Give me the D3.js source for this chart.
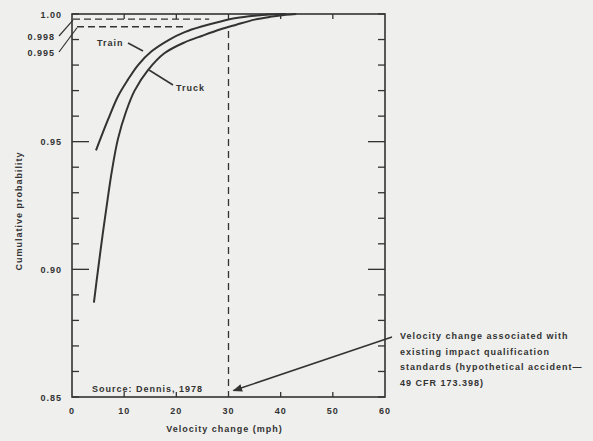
<!DOCTYPE html>
<html>
<head>
<meta charset="utf-8">
<script src="https://cdn.jsdelivr.net/npm/d3@7"></script>
<style>
  body { margin: 0; background: #efefed; }
  svg { display: block; }
  text { font-family: "Liberation Sans", Arial, sans-serif; font-weight: bold; font-size: 9px; fill: #333; letter-spacing: 1px; }
</style>
</head>
<body>
<svg id="chart" width="593" height="441"></svg>
<script>
// data
var trainV = [4.6, 6.9, 8.8, 10.7, 12.7, 15.2, 18.6, 21.6, 25, 28.5, 31.5, 35, 38, 41];
var trainP = [0.9466, 0.9586, 0.9677, 0.9742, 0.9801, 0.9853, 0.9899, 0.9929, 0.9952, 0.9971, 0.9984, 0.9993, 0.9998, 1.0];
var truckV = [4.2, 5.0, 5.9, 6.8, 7.6, 8.8, 10.4, 12.0, 14.6, 17.7, 21.6, 25, 28.5, 31.5, 35, 38, 41, 43];
var truckP = [0.887, 0.900, 0.914, 0.927, 0.938, 0.951, 0.9620, 0.9700, 0.9781, 0.9846, 0.9889, 0.9915, 0.9940, 0.9958, 0.9978, 0.9989, 0.9997, 1.0];

var xTicks = [0, 10, 20, 30, 40, 50, 60];
var yLabelTicks = [0.85, 0.90, 0.95, 1.00];
var yMinorTicks = d3.range(0.85, 1.0001, 0.01);
var refLevels = [0.998, 0.995];
var refLabels = ["0.998", "0.995"];
var refEnds = [26.3, 21.5];
var qualV = 30;
var noteLines = ["Velocity change associated with", "existing impact qualification", "standards (hypothetical accident\u2014", "49 CFR 173.398)"];

var x = d3.scaleLinear().domain([0, 60]).range([72, 385]);
var y = d3.scaleLinear().domain([0.85, 1.0]).range([397, 14]);

var svg = d3.select("#chart");
var ink = "#333";

// frame
svg.append("rect")
    .attr("x", x(0)).attr("y", y(1))
    .attr("width", x(60) - x(0)).attr("height", y(0.85) - y(1))
    .style("fill", "none").style("stroke", ink).style("stroke-width", 1.6);

// left / right ticks (inward)
yMinorTicks.forEach(function(t) {
    var major = Math.abs(t - 0.95) < 1e-6 || Math.abs(t - 0.90) < 1e-6;
    var len = major ? 17 : 7;
    svg.append("line").attr("x1", x(0)).attr("x2", x(0) + len)
        .attr("y1", y(t)).attr("y2", y(t)).style("stroke", ink).style("stroke-width", 1.3);
    svg.append("line").attr("x1", x(60)).attr("x2", x(60) - len)
        .attr("y1", y(t)).attr("y2", y(t)).style("stroke", ink).style("stroke-width", 1.3);
});

// top / bottom ticks
xTicks.slice(1, -1).forEach(function(t) {
    svg.append("line").attr("x1", x(t)).attr("x2", x(t))
        .attr("y1", y(0.85)).attr("y2", y(0.85) - 5).style("stroke", ink).style("stroke-width", 1.3);
    svg.append("line").attr("x1", x(t)).attr("x2", x(t))
        .attr("y1", y(1)).attr("y2", y(1) + 5).style("stroke", ink).style("stroke-width", 1.3);
});

// tick labels
svg.append("g").selectAll("text").data(xTicks).enter().append("text")
    .attr("x", d => x(d)).attr("y", 414)
    .attr("text-anchor", "middle")
    .text(d => d);

svg.append("g").selectAll("text").data(yLabelTicks).enter().append("text")
    .attr("x", 62).attr("y", d => y(d) + 3.5)
    .attr("text-anchor", "end")
    .text(d3.format(".2f"));

// reference levels with leaders
refLevels.forEach(function(lv, i) {
    var ly = i === 0 ? 37 : 53;
    svg.append("text").attr("x", 55).attr("y", ly + 3)
        .attr("text-anchor", "end").text(refLabels[i]);
    var sx = i === 0 ? x(0) + 1 : x(0) + 5;
    svg.append("path")
        .attr("d", "M" + 59 + "," + (ly - 1) + " L" + sx + "," + (y(lv) + 1))
        .style("fill", "none").style("stroke", ink).style("stroke-width", 1.2);
    svg.append("line")
        .attr("x1", sx).attr("x2", x(refEnds[i]))
        .attr("y1", y(lv)).attr("y2", y(lv))
        .style("stroke", ink).style("stroke-width", 1.3)
        .style("stroke-dasharray", "7,4");
});

// curves
var line = d3.line().x(d => x(d[0])).y(d => y(d[1])).curve(d3.curveCatmullRom.alpha(0.5));
var train = trainV.map((v, i) => [v, trainP[i]]);
var truck = truckV.map((v, i) => [v, truckP[i]]);

[train, truck].forEach(function(s) {
    svg.append("path").datum(s).attr("d", line)
        .style("fill", "none").style("stroke", ink).style("stroke-width", 2);
});

// curve labels
svg.append("text").attr("x", 97).attr("y", 46).text("Train");
svg.append("line").attr("x1", 128).attr("y1", 43).attr("x2", 143).attr("y2", 51)
    .style("stroke", ink).style("stroke-width", 1.5);
svg.append("text").attr("x", 176).attr("y", 91).text("Truck");
svg.append("line").attr("x1", 149).attr("y1", 70).attr("x2", 173).attr("y2", 85)
    .style("stroke", ink).style("stroke-width", 1.5);

// qualification velocity
svg.append("line")
    .attr("x1", x(qualV)).attr("x2", x(qualV))
    .attr("y1", y(0.9933)).attr("y2", y(0.852))
    .style("stroke", ink).style("stroke-width", 1.3)
    .style("stroke-dasharray", "7,5");

// arrow to the dashed line
svg.append("defs").append("marker")
    .attr("id", "head").attr("viewBox", "0 0 10 10")
    .attr("refX", 9).attr("refY", 5)
    .attr("markerWidth", 6).attr("markerHeight", 6)
    .attr("orient", "auto")
    .append("path").attr("d", "M0,1 L10,5 L0,9 z").style("fill", ink);

svg.append("line")
    .attr("x1", 392).attr("y1", 337)
    .attr("x2", x(qualV) + 5).attr("y2", y(0.8525))
    .style("stroke", ink).style("stroke-width", 1.6)
    .attr("marker-end", "url(#head)");

svg.append("g").selectAll("text").data(noteLines).enter().append("text")
    .attr("x", 400).attr("y", (d, i) => 339 + i * 15.5)
    .text(d => d);

svg.append("text").attr("x", 92).attr("y", 392).text("Source:  Dennis, 1978");

// axis titles
svg.append("text")
    .attr("x", (x(0) + x(60)) / 2 - 4).attr("y", 432)
    .attr("text-anchor", "middle")
    .text("Velocity change (mph)");

svg.append("text")
    .attr("transform", "rotate(-90)")
    .attr("x", -211).attr("y", 22)
    .attr("text-anchor", "middle")
    .text("Cumulative probability");
</script>
</body>
</html>
